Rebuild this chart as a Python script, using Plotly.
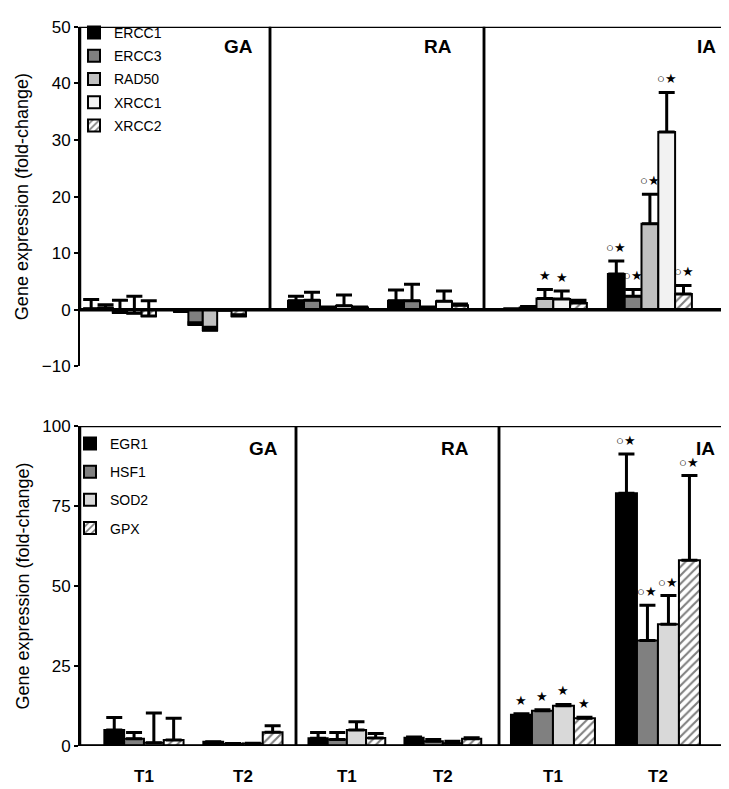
import plotly.graph_objects as go

# ---------------- data ----------------
groups = ["GA", "RA", "IA"]
times = ["T1", "T2"]

# values ordered: GA-T1, GA-T2, RA-T1, RA-T2, IA-T1, IA-T2
top_genes = ["ERCC1", "ERCC3", "RAD50", "XRCC1", "XRCC2"]
ercc1 = [0.2, -0.3, 1.6, 1.6, 0.1, 6.3]
ercc3 = [0.3, -2.6, 1.7, 1.6, 0.4, 2.4]
rad50 = [-0.5, -3.6, 0.3, 0.3, 2.0, 15.2]
xrcc1 = [-0.6, -0.1, 0.7, 1.5, 1.9, 31.4]
xrcc2 = [-1.1, -1.1, 0.4, 0.8, 1.2, 2.8]
ercc1_err = [1.6, 0.2, 0.8, 1.9, 0.1, 2.3]
ercc3_err = [0.6, 0.3, 1.4, 2.9, 0.2, 1.2]
rad50_err = [2.2, 0.5, 0.2, 0.2, 1.6, 5.2]
xrcc1_err = [3.0, 0.1, 1.9, 1.8, 1.4, 7.0]
xrcc2_err = [2.7, 0.2, 0.1, 0.2, 0.5, 1.5]
ercc1_sig = ["", "", "", "", "", "○★"]
ercc3_sig = ["", "", "", "", "", "○★"]
rad50_sig = ["", "", "", "", "★", "○★"]
xrcc1_sig = ["", "", "", "", "★", "○★"]
xrcc2_sig = ["", "", "", "", "", "○★"]

bottom_genes = ["EGR1", "HSF1", "SOD2", "GPX"]
egr1 = [5.0, 1.3, 2.4, 2.6, 9.8, 79.0]
hsf1 = [2.3, 0.7, 2.0, 1.5, 11.0, 33.0]
sod2 = [1.0, 0.8, 5.0, 0.9, 12.6, 38.0]
gpx = [1.9, 4.3, 2.5, 2.3, 8.7, 58.0]
egr1_err = [3.9, 0.0, 1.8, 0.2, 0.3, 12.2]
hsf1_err = [1.9, 0.1, 2.2, 0.5, 0.3, 11.0]
sod2_err = [9.3, 0.1, 2.6, 0.6, 0.4, 9.0]
gpx_err = [6.8, 2.0, 1.4, 0.3, 0.3, 26.5]
egr1_sig = ["", "", "", "", "★", "○★"]
hsf1_sig = ["", "", "", "", "★", "○★"]
sod2_sig = ["", "", "", "", "★", "○★"]
gpx_sig = ["", "", "", "", "★", "○★"]

top_yticks = [-10, 0, 10, 20, 30, 40, 50]
bottom_yticks = [0, 25, 50, 75, 100]
y_title = "Gene expression (fold-change)"

# ---------------- styles ----------------
FONT = "Arial, Liberation Sans, sans-serif"
W, H = 729, 789
BARGAP = 0.2

top_styles = [
    dict(color="#000000"),
    dict(color="#808080"),
    dict(color="#c0c0c0"),
    dict(color="#f2f2f2"),
    dict(color="#ffffff", pattern="/"),
]
bottom_styles = [
    dict(color="#000000"),
    dict(color="#808080"),
    dict(color="#d9d9d9"),
    dict(color="#ffffff", pattern="/"),
]

fig = go.Figure()


def add_panel(genes, values, errors, sigs, styles, xaxes, yaxis, legend):
    n = len(genes)
    slot = (1 - BARGAP) / n
    pos = list(range(len(times)))
    for gi, gene in enumerate(genes):
        st = styles[gi]
        marker = dict(color=st["color"], line=dict(color="black", width=2))
        if "pattern" in st:
            marker["pattern"] = dict(shape=st["pattern"], fgcolor="black",
                                     bgcolor="white", size=6, solidity=0.35,
                                     fillmode="overlay")
        for si, xa in enumerate(xaxes):
            v = values[gi][2 * si:2 * si + 2]
            e = errors[gi][2 * si:2 * si + 2]
            fig.add_trace(go.Bar(
                x=pos, y=v, xaxis=xa, yaxis=yaxis, name=gene,
                legendgroup=legend + gene, showlegend=(si == 0), legend=legend,
                marker=marker,
                error_y=dict(type="data", symmetric=False, array=e,
                             arrayminus=[0] * len(e), color="black",
                             thickness=3, width=8),
            ))
            for ti in pos:
                s = sigs[gi][2 * si + ti]
                if s:
                    fig.add_annotation(
                        x=ti + (gi - (n - 1) / 2) * slot, y=v[ti] + e[ti],
                        xref=xa, yref=yaxis, text=s, showarrow=False,
                        yanchor="bottom", yshift=4,
                        font=dict(family=FONT, size=13, color="black"))


top_x = ["x", "x2", "x3"]
bot_x = ["x4", "x5", "x6"]
add_panel(top_genes, [ercc1, ercc3, rad50, xrcc1, xrcc2],
          [ercc1_err, ercc3_err, rad50_err, xrcc1_err, xrcc2_err],
          [ercc1_sig, ercc3_sig, rad50_sig, xrcc1_sig, xrcc2_sig],
          top_styles, top_x, "y", "legend")
add_panel(bottom_genes, [egr1, hsf1, sod2, gpx],
          [egr1_err, hsf1_err, sod2_err, gpx_err],
          [egr1_sig, hsf1_sig, sod2_sig, gpx_sig],
          bottom_styles, bot_x, "y2", "legend2")

# ---------------- layout ----------------
top_px = [(72, 262), (262, 476), (476, 728)]
bot_px = [(72, 288), (288, 491), (491, 727)]
top_xranges = [[-0.444, 1.667], [-0.58, 1.56], [-0.58, 1.82]]
bot_xranges = [[-0.646, 1.536], [-0.53, 1.585], [-0.514, 1.734]]
top_ypx = (358, 10)
bot_ypx = (747, 419)

layout = dict(
    width=W, height=H, margin=dict(l=0, r=0, t=0, b=0),
    paper_bgcolor="white", plot_bgcolor="white",
    barmode="group", bargap=BARGAP, bargroupgap=0,
    font=dict(family=FONT, color="black"),
)

xcommon = dict(showgrid=False, zeroline=False,
               showline=False, ticks="", fixedrange=True)
for i, ((a, b), rng) in enumerate(zip(top_px, top_xranges)):
    key = "xaxis" if i == 0 else f"xaxis{i + 1}"
    layout[key] = dict(xcommon, domain=[a / W, b / W], anchor="y", range=rng,
                       showticklabels=False)
for i, ((a, b), rng) in enumerate(zip(bot_px, bot_xranges)):
    layout[f"xaxis{i + 4}"] = dict(
        xcommon, domain=[a / W, b / W], anchor="y2", range=rng,
        tickmode="array", tickvals=list(range(len(times))), ticktext=times,
        tickfont=dict(family=FONT, size=17, weight="bold"),
        ticklabelstandoff=18)

ycommon = dict(showgrid=False, zeroline=False, showline=True, linecolor="black",
               linewidth=2, ticks="outside", ticklen=4, tickwidth=1.5,
               tickcolor="black", tickfont=dict(family=FONT, size=17),
               fixedrange=True)
layout["yaxis"] = dict(ycommon, domain=[1 - top_ypx[0] / H, 1 - top_ypx[1] / H],
                       range=[-10, 50], anchor="x", tickmode="array",
                       tickvals=top_yticks,
                       title=dict(text=y_title, font=dict(family=FONT, size=18),
                                  standoff=8))
layout["yaxis2"] = dict(ycommon, domain=[1 - bot_ypx[0] / H, 1 - bot_ypx[1] / H],
                        range=[0, 100], anchor="x4", tickmode="array",
                        tickvals=bottom_yticks,
                        title=dict(text=y_title, font=dict(family=FONT, size=18),
                                   standoff=8))

layout["legend"] = dict(x=66 / W, y=1.0, xanchor="left", yanchor="top",
                        bgcolor="rgba(0,0,0,0)", font=dict(family=FONT, size=14),
                        tracegroupgap=2, itemwidth=30, traceorder="grouped")
layout["legend2"] = dict(x=62 / W, y=1 - 421 / H, xanchor="left", yanchor="top",
                         bgcolor="rgba(0,0,0,0)", font=dict(family=FONT, size=14),
                         tracegroupgap=7, itemwidth=30, traceorder="grouped")
fig.update_layout(**layout)

# frames of each section
shapes = []
for xa in top_x:
    shapes.append(dict(type="rect", xref=f"{xa} domain", yref="y", x0=0, x1=1,
                       y0=0, y1=50, line=dict(color="black", width=2.5),
                       layer="above"))
for xa in bot_x:
    shapes.append(dict(type="rect", xref=f"{xa} domain", yref="y2", x0=0, x1=1,
                       y0=0, y1=100, line=dict(color="black", width=2.5),
                       layer="above"))
shapes.append(dict(type="line", xref="paper", yref="y", x0=top_px[0][0] / W,
                   x1=top_px[-1][1] / W, y0=0, y1=0,
                   line=dict(color="black", width=3.5), layer="above"))
shapes.append(dict(type="line", xref="paper", yref="y2", x0=bot_px[0][0] / W,
                   x1=bot_px[-1][1] / W, y0=0, y1=0,
                   line=dict(color="black", width=3.5), layer="above"))
fig.update_layout(shapes=shapes)

# section labels
top_lbl = [(230, 30), (430, 30), (698, 30)]
bot_lbl = [(255, 442), (447, 442), (697, 442)]
for g, (px, py) in zip(groups, top_lbl):
    fig.add_annotation(x=px / W, y=1 - py / H, xref="paper", yref="paper",
                       text=g, showarrow=False, xanchor="center", yanchor="middle",
                       font=dict(family=FONT, size=19, weight="bold"))
for g, (px, py) in zip(groups, bot_lbl):
    fig.add_annotation(x=px / W, y=1 - py / H, xref="paper", yref="paper",
                       text=g, showarrow=False, xanchor="center", yanchor="middle",
                       font=dict(family=FONT, size=19, weight="bold"))

fig.write_html("out.html")
